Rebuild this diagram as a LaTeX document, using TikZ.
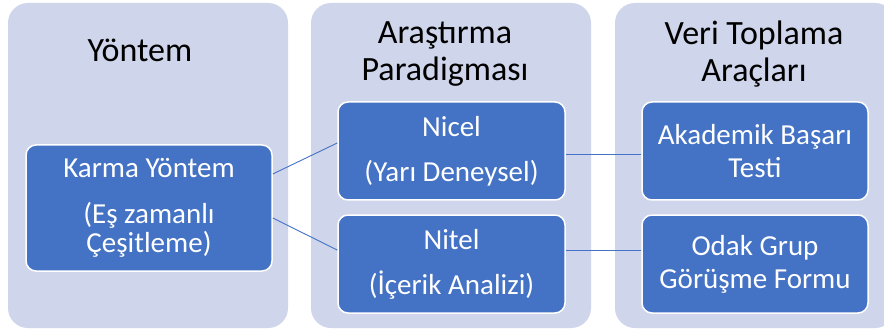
\documentclass[tikz,border=0pt]{standalone}
\usepackage{fontspec}
\setmainfont{Carlito}
\definecolor{panelfill}{HTML}{CFD5EA}
\definecolor{boxblue}{HTML}{4472C4}

\begin{document}
\begin{tikzpicture}[x=1pt,y=-1pt,
    panel/.style ={rectangle, rounded corners=20pt, fill=panelfill, inner sep=0pt, minimum width=280pt, minimum height=325pt},
    heading/.style ={align=center, inner sep=0pt, font=\fontsize{34}{37}\selectfont},
    item/.style ={rectangle, rounded corners=10pt, draw=white, line width=1.5pt, fill=boxblue, text=white, align=center, inner sep=0pt, font=\fontsize{29}{29}\selectfont},
    link/.style ={draw=boxblue, line width=0.9pt}]
   \useasboundingbox (0,0) rectangle (884,334);
   \clip (0,0) rectangle (884,334);
   \fill[white] (0,0) rectangle (884,334);
   \node[panel] (P1) at (148,165.5) {};
   \node[panel] (P2) at (451,165.5) {};
   \node[panel] (P3) at (755,165.5) {};
   \node[heading] (T1) at (140,50) {Yöntem};
   \node[heading] (T2) at (445,54) {Araştırma\\Paradigması};
   \node[heading] (T3) at (754,54) {Veri Toplama\\Araçları};
   \node[item, minimum width=246pt, minimum height=126pt] (karma) at (149,208) {Karma Yöntem\\[17pt](Eş zamanlı\\Çeşitleme)};
   \node[item, minimum width=227pt, minimum height=98pt] (nicel) at (451.5,151) {Nicel\\[16pt](Yarı Deneysel)};
   \node[item, minimum width=227pt, minimum height=98pt] (nitel) at (451.5,264) {Nitel\\[16pt](İçerik Analizi)};
   \node[item, minimum width=226pt, minimum height=98pt] (test) at (755,151) {Akademik Başarı\\[4pt]Testi};
   \node[item, minimum width=226pt, minimum height=98pt] (form) at (755,264) {Odak Grup\\[4pt]Görüşme Formu};
   \draw[link] ([yshift=34pt]karma.east) to ([yshift=8pt]nicel.west);
   \draw[link] ([yshift=-10pt]karma.east) to ([yshift=14pt]nitel.west);
   \draw[link] ([yshift=-3pt]nicel.east) to ([yshift=-3pt]test.west);
   \draw[link] ([yshift=14pt]nitel.east) to ([yshift=14pt]form.west);
\end{tikzpicture}
\end{document}
